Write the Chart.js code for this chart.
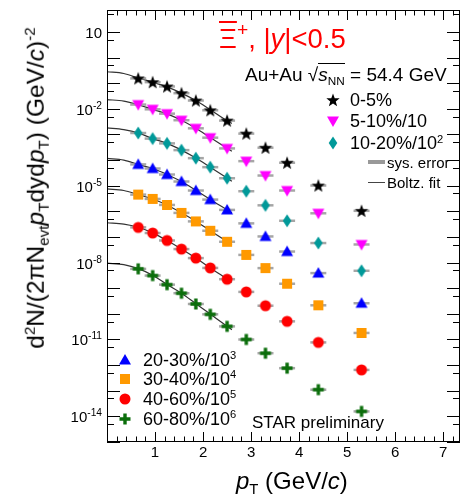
<!DOCTYPE html>
<html>
<head>
<meta charset="utf-8">
<script src="https://cdn.jsdelivr.net/npm/chart.js@4.4.0/dist/chart.umd.min.js"></script>
<style>
  body { margin: 0; background: #fff; overflow: hidden; }
  #wrap { position: relative; width: 462px; height: 502px; overflow: hidden; font-family: "Liberation Sans", Arial, sans-serif; color: #000; }
  #plot { position: absolute; left: 0; top: 0; }
  .t { position: absolute; white-space: nowrap; line-height: 1; }
  .sp { font-size: 0.62em; position: relative; top: -0.6em; }
  .sb { font-size: 0.62em; position: relative; top: 0.35em; }
  .mk { position: absolute; }
</style>
</head>
<body>
<div id="wrap">
  <canvas id="plot" width="462" height="502"></canvas>

  <div class="t" style="left:36px;top:188px;font-size:24.5px;transform:translate(-50%,-50%) rotate(-90deg);">d<span class="sp">2</span>N/(2&pi;N<span class="sb">evt</span><i>p</i><span class="sb">T</span>dyd<i>p</i><span class="sb">T</span>) (GeV/<i>c</i>)<span class="sp">-2</span></div>
  <div class="t" style="left:236px;top:469px;font-size:24px;"><i>p</i><span class="sb">T</span> (GeV/<i>c</i>)</div>

  <div class="t" style="left:219px;top:25px;font-size:27.5px;color:#f00;"><span style="text-decoration:overline;">&Xi;</span><span class="sp" style="font-size:0.7em">+</span>, |<i>y</i>|&lt;0.5</div>
  <div class="t" style="left:245px;top:65px;font-size:19px;">Au+Au &radic;<span style="border-top:1px solid #000;"><i>s</i><span class="sb">NN</span></span> = 54.4 GeV</div>

  <div id="legTop"></div>
  <div id="legBottom"></div>
  <div class="t" style="left:368px;top:160px;width:17px;height:4px;background:#999;"></div>
  <div class="t" style="left:387px;top:155px;font-size:15px;">sys. error</div>
  <div class="t" style="left:368px;top:182px;width:17px;height:1px;background:#444;"></div>
  <div class="t" style="left:387px;top:175px;font-size:15px;">Boltz. fit</div>

  <div class="t" style="left:252px;top:414px;font-size:17px;">STAR preliminary</div>
  <div id="ticks"></div>
</div>

<script>
// pT bin centres (GeV/c)
var ptBins = [0.65, 0.95, 1.25, 1.55, 1.85, 2.15, 2.5, 2.9, 3.3, 3.75, 4.4, 5.3];

// scaled invariant yields per centrality class
var yield0to5   = [0.154, 0.110, 0.0747, 0.0408, 0.0211, 0.00881, 0.00348, 0.00108, 3.05e-4, 7.9e-5, 1.02e-5, 1.05e-6];
var yield5to10  = [0.0147, 0.0096, 0.0065, 0.0036, 0.00174, 7.5e-4, 2.86e-4, 9.1e-5, 2.5e-5, 6.5e-6, 8.4e-7, 5.1e-8];
var yield10to20 = [1.14e-3, 6.9e-4, 4.5e-4, 2.45e-4, 1.19e-4, 5.3e-5, 1.96e-5, 6.1e-6, 1.72e-6, 4.3e-7, 5.8e-8, 4.8e-9];
var yield20to30 = [6.8e-5, 4.7e-5, 2.74e-5, 1.46e-5, 6.5e-6, 2.88e-6, 1.14e-6, 3.4e-7, 1.05e-7, 2.7e-8, 3.9e-9, 2.6e-10];
var yield30to40 = [4.5e-6, 3.06e-6, 1.78e-6, 8.7e-7, 4.06e-7, 1.75e-7, 6.5e-8, 2.0e-8, 6.1e-9, 1.5e-9, 2.16e-10, 1.8e-11];
var yield40to60 = [2.37e-7, 1.43e-7, 7.3e-8, 3.37e-8, 1.5e-8, 6.2e-9, 2.25e-9, 7.2e-10, 2.08e-10, 5.1e-11, 7.7e-12, 6.5e-13];
var yield60to80 = [5.7e-9, 3.12e-9, 1.38e-9, 6.4e-10, 2.43e-10, 9.6e-11, 3.25e-11, 1.0e-11, 2.92e-12, 7.6e-13, 1.1e-13, 1.56e-14];

// Boltzmann fit curves, sampled
var fitPt       = [0, 0.35, 0.65, 0.95, 1.25, 1.55, 1.85, 2.15, 2.5, 2.6];
var fit0to5     = [0.28, 0.24, 0.16, 0.11, 0.072, 0.041, 0.021, 0.0092, 0.0034, 0.0027];
var fit5to10    = [0.023, 0.020, 0.0145, 0.0096, 0.0064, 0.0036, 0.00175, 7.6e-4, 2.9e-4, 2.2e-4];
var fit10to20   = [1.8e-3, 1.55e-3, 1.15e-3, 6.9e-4, 4.5e-4, 2.45e-4, 1.2e-4, 5.3e-5, 2.0e-5, 1.5e-5];
var fit20to30   = [1.16e-4, 1.0e-4, 6.8e-5, 4.7e-5, 2.75e-5, 1.45e-5, 6.6e-6, 2.9e-6, 1.15e-6, 8.8e-7];
var fit30to40   = [7.5e-6, 6.5e-6, 4.5e-6, 3.05e-6, 1.78e-6, 8.8e-7, 4.1e-7, 1.75e-7, 6.6e-8, 5.0e-8];
var fit40to60   = [3.6e-7, 3.2e-7, 2.4e-7, 1.45e-7, 7.3e-8, 3.4e-8, 1.5e-8, 6.2e-9, 2.3e-9, 1.7e-9];
var fit60to80   = [9.5e-9, 8.3e-9, 5.8e-9, 3.2e-9, 1.4e-9, 6.4e-10, 2.5e-10, 9.8e-11, 3.3e-11, 2.4e-11];

// axis labels
var xTickLabels = [1, 2, 3, 4, 5, 6, 7];
var yTickPowers = [1, -2, -5, -8, -11, -14];

// centrality classes: legend text, marker, colour
var classes = [
  { label: '0-5%',       sup: '',  yields: yield0to5,   fit: fit0to5,   shape: 'star',    color: '#000000' },
  { label: '5-10%/10',   sup: '',  yields: yield5to10,  fit: fit5to10,  shape: 'triDown', color: '#ff00ff' },
  { label: '10-20%/10',  sup: '2', yields: yield10to20, fit: fit10to20, shape: 'diamond', color: '#009999' },
  { label: '20-30%/10',  sup: '3', yields: yield20to30, fit: fit20to30, shape: 'tri',     color: '#0000ff' },
  { label: '30-40%/10',  sup: '4', yields: yield30to40, fit: fit30to40, shape: 'square',  color: '#ff9900' },
  { label: '40-60%/10',  sup: '5', yields: yield40to60, fit: fit40to60, shape: 'circle',  color: '#ff0000' },
  { label: '60-80%/10',  sup: '6', yields: yield60to80, fit: fit60to80, shape: 'plus',    color: '#0b6e0b' }
];

// filled marker sprites used as point styles
function makeMarker(kind, color) {
  var s = 16, m = 8;
  var c = document.createElement('canvas');
  c.width = s; c.height = s;
  var g = c.getContext('2d');
  g.fillStyle = color;
  g.beginPath();
  if (kind === 'star') {
    for (var i = 0; i < 10; i++) {
      var r = i % 2 ? 2.9 : 7, a = -Math.PI / 2 + i * Math.PI / 5;
      g.lineTo(m + r * Math.cos(a), m + 0.5 + r * Math.sin(a));
    }
  } else if (kind === 'tri') {
    g.moveTo(m, m - 6); g.lineTo(m + 6, m + 4.5); g.lineTo(m - 6, m + 4.5);
  } else if (kind === 'triDown') {
    g.moveTo(m, m + 6); g.lineTo(m + 6, m - 4.5); g.lineTo(m - 6, m - 4.5);
  } else if (kind === 'diamond') {
    g.moveTo(m, m - 6.5); g.lineTo(m + 4.3, m); g.lineTo(m, m + 6.5); g.lineTo(m - 4.3, m);
  } else if (kind === 'square') {
    g.rect(m - 5, m - 5, 10, 10);
  } else if (kind === 'circle') {
    g.arc(m, m, 5.5, 0, Math.PI * 2);
  } else if (kind === 'plus') {
    g.rect(m - 5.5, m - 1.7, 11, 3.4);
    g.rect(m - 1.7, m - 5.5, 3.4, 11);
  }
  g.closePath();
  g.fill();
  return c;
}

var datasets = [];
classes.forEach(function (c) {
  c.marker = makeMarker(c.shape, c.color);
  var pts = ptBins.map(function (x, i) { return { x: x, y: c.yields[i] }; });
  datasets.push({
    data: pts, pointStyle: c.marker, pointRadius: 8, order: 0
  });
  // systematic error bars
  datasets.push({
    data: pts, pointStyle: 'line', pointRadius: 8, pointBorderWidth: 2.5,
    pointBorderColor: 'rgba(150,150,150,0.85)', order: 1
  });
  datasets.push({
    data: fitPt.map(function (x, i) { return { x: x, y: c.fit[i] }; }),
    showLine: true, pointRadius: 0, borderColor: '#333', borderWidth: 1.2,
    cubicInterpolationMode: 'monotone', order: 2
  });
});

// frame with inward ticks on all four sides
var frameTicks = {
  id: 'frameTicks',
  afterDraw: function (chart) {
    var a = chart.chartArea, g = chart.ctx;
    var xs = chart.scales.x, ys = chart.scales.y;
    g.save();
    g.strokeStyle = '#000';
    g.lineWidth = 1;
    g.strokeRect(a.left + 0.5, a.top + 0.5, a.right - a.left - 1, a.bottom - a.top - 1);
    g.beginPath();
    for (var i = 0; i <= 36; i++) {
      var px = Math.round(xs.getPixelForValue(i * 0.2)) + 0.5;
      if (px > a.right - 2) break;
      var len = i % 5 === 0 ? 10 : 5.5;
      g.moveTo(px, a.bottom); g.lineTo(px, a.bottom - len);
      g.moveTo(px, a.top); g.lineTo(px, a.top + len);
    }
    for (var p = -15; p <= 1; p++) {
      [[1, 13], [5, 7]].forEach(function (t) {
        var v = t[0] * Math.pow(10, p);
        if (v < ys.min || v > ys.max) return;
        var py = Math.round(ys.getPixelForValue(v)) + 0.5;
        g.moveTo(a.left, py); g.lineTo(a.left + t[1], py);
        g.moveTo(a.right, py); g.lineTo(a.right - t[1], py);
      });
    }
    g.stroke();
    g.restore();
  }
};

var chart = new Chart(document.getElementById('plot').getContext('2d'), {
  type: 'scatter',
  data: { datasets: datasets },
  options: {
    responsive: false,
    animation: false,
    devicePixelRatio: 1,
    layout: { autoPadding: false, padding: { left: 107, right: 2, top: 10, bottom: 60 } },
    plugins: { legend: { display: false }, tooltip: { enabled: false } },
    scales: {
      x: { type: 'linear', min: 0, max: 7.35, display: false },
      y: { type: 'logarithmic', min: 1e-15, max: 72, display: false }
    }
  },
  plugins: [frameTicks]
});

// tick labels placed from the chart's scales
var tickBox = document.getElementById('ticks');
var xs = chart.scales.x, ys = chart.scales.y;
xTickLabels.forEach(function (v) {
  var d = document.createElement('div');
  d.className = 't';
  d.style.fontSize = '15px';
  d.style.top = '444px';
  d.style.left = xs.getPixelForValue(v) + 'px';
  d.style.transform = 'translateX(-50%)';
  d.textContent = v;
  tickBox.appendChild(d);
});
yTickPowers.forEach(function (p) {
  var d = document.createElement('div');
  d.className = 't';
  d.style.fontSize = '15px';
  d.style.right = (462 - 102) + 'px';
  d.style.top = (ys.getPixelForValue(Math.pow(10, p)) - 7) + 'px';
  d.innerHTML = p === 1 ? '10' : '10<span class="sp" style="font-size:0.68em">' + p + '</span>';
  tickBox.appendChild(d);
});

// legends
function legendEntry(box, c, mx, tx, cy) {
  var img = document.createElement('img');
  img.className = 'mk';
  img.src = c.marker.toDataURL();
  img.style.left = (mx - 8) + 'px';
  img.style.top = (cy - 8) + 'px';
  box.appendChild(img);
  var d = document.createElement('div');
  d.className = 't';
  d.style.fontSize = '18px';
  d.style.left = tx + 'px';
  d.style.top = (cy - 9) + 'px';
  d.innerHTML = c.label + (c.sup ? '<span class="sp">' + c.sup + '</span>' : '');
  box.appendChild(d);
}
var topRows = [100, 120.7, 143.3];
var bottomRows = [360, 379, 398.5, 419];
for (var i = 0; i < 3; i++) legendEntry(document.getElementById('legTop'), classes[i], 333, 350, topRows[i]);
for (var j = 0; j < 4; j++) legendEntry(document.getElementById('legBottom'), classes[3 + j], 125, 143, bottomRows[j]);
</script>
</body>
</html>
